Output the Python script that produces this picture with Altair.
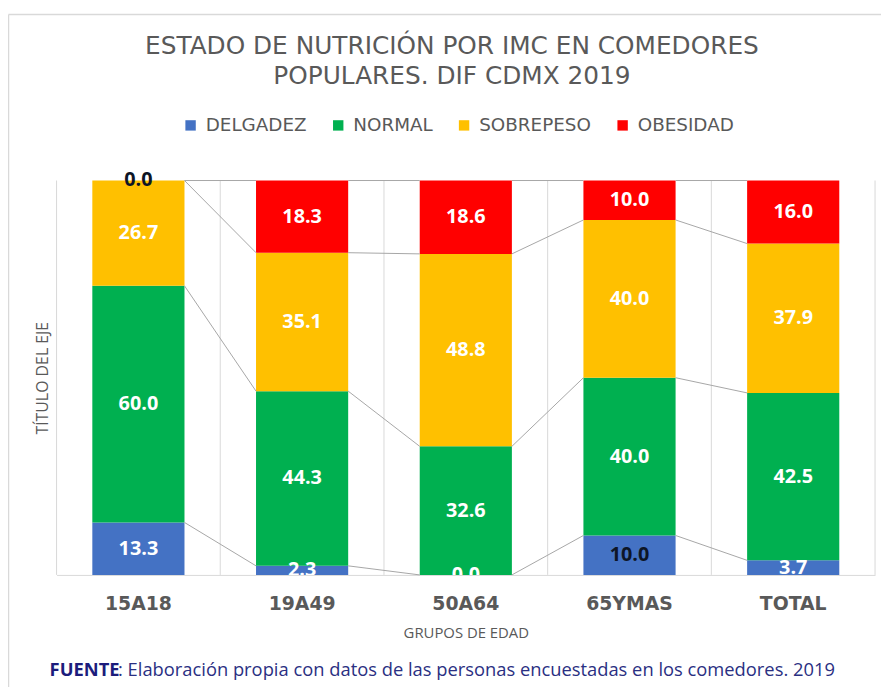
import altair as alt
import pandas as pd

grupos = ["15A18", "19A49", "50A64", "65YMAS", "TOTAL"]
estados = ["DELGADEZ", "NORMAL", "SOBREPESO", "OBESIDAD"]
delgadez = [13.3, 2.3, 0.0, 10.0, 3.7]
normal = [60.0, 44.3, 32.6, 40.0, 42.5]
sobrepeso = [26.7, 35.1, 48.8, 40.0, 37.9]
obesidad = [0.0, 18.3, 18.6, 10.0, 16.0]
colores = ["#4472C4", "#00B050", "#FFC000", "#FF0000"]

titulo = ["ESTADO DE NUTRICIÓN POR IMC EN COMEDORES", "POPULARES.  DIF CDMX 2019"]
titulo_y = "TÍTULO DEL EJE"
titulo_x = "GRUPOS DE EDAD"
fuente_neg = "FUENTE"
fuente_txt = ": Elaboración propia con datos de las personas encuestadas en los comedores. 2019"

series = [delgadez, normal, sobrepeso, obesidad]
rows = []
for gi, g in enumerate(grupos):
    vals = [s[gi] for s in series]
    total = sum(vals)
    acc = 0.0
    for si, e in enumerate(estados):
        v = vals[si]
        y0 = acc / total * 100
        acc += v
        y1 = acc / total * 100
        rows.append(dict(grupo=g, estado=e, valor=v, orden=si, y0=y0, y1=y1,
                         ymid=(y0 + y1) / 2, etiqueta=f"{v:.1f}"))
df = pd.DataFrame(rows)

lines = []
for gi in range(len(grupos) - 1):
    for e in estados:
        a = df[(df.grupo == grupos[gi]) & (df.estado == e)].y1.iloc[0]
        b = df[(df.grupo == grupos[gi + 1]) & (df.estado == e)].y1.iloc[0]
        lines.append(dict(g1=grupos[gi], g2=grupos[gi + 1], estado=e, ya=a, yb=b))
dl = pd.DataFrame(lines)
dg = pd.DataFrame({"grupo": grupos})

W, H = 826, 398
PI = 0.437
xscale = alt.Scale(domain=grupos, paddingInner=PI, paddingOuter=PI / 2)
gscale = alt.Scale(domain=grupos, padding=0)
yscale = alt.Scale(domain=[0, 100], nice=False)

xaxis = alt.Axis(title=titulo_x, labelFont="DejaVu Sans", labelFontSize=19,
                 labelFontWeight="bold", labelColor="#595959", labelPadding=20,
                 titleFont="Open Sans", titleFontSize=15, titleFontWeight="normal",
                 titleColor="#595959", titlePadding=12, ticks=False, grid=False,
                 domainColor="#d9d9d9", labelAngle=0)
yaxis = alt.Axis(title=titulo_y, labels=False, ticks=False, domain=False, grid=False,
                 titleFont="Open Sans", titleFontSize=16, titleFontWeight="normal",
                 titleColor="#595959", titlePadding=6)

# chart-area frame (top and left edges)
frame = pd.DataFrame({"k": [0]})
frame_top = alt.Chart(frame).mark_rule(color="#d9d9d9", strokeWidth=1.5).encode(
    x=alt.value(-48.5), x2=alt.value(W + 10), y=alt.value(-167.5))
frame_left = alt.Chart(frame).mark_rule(color="#d9d9d9", strokeWidth=1.5).encode(
    x=alt.value(-48.5), y=alt.value(-167.5), y2=alt.value(H + 120))

grid_l = alt.Chart(dg).mark_rule(color="#d9d9d9", strokeWidth=1).encode(
    x=alt.X("grupo:N", scale=gscale, sort=grupos, bandPosition=0, axis=None),
    y=alt.value(0), y2=alt.value(H),
)
grid_r = alt.Chart(dg).transform_filter(alt.datum.grupo == grupos[-1]).mark_rule(
    color="#d9d9d9", strokeWidth=1).encode(
    x=alt.X("grupo:N", scale=gscale, sort=grupos, bandPosition=1, axis=None),
    y=alt.value(0), y2=alt.value(H),
)

bars = alt.Chart(df).mark_bar().encode(
    x=alt.X("grupo:N", scale=xscale, sort=grupos, axis=xaxis),
    y=alt.Y("y0:Q", scale=yscale, axis=yaxis),
    y2="y1:Q",
    color=alt.Color("estado:N", scale=alt.Scale(domain=estados, range=colores), sort=estados,
                    legend=alt.Legend(title=None, orient="none", legendX=126, legendY=-65,
                                      direction="horizontal", columns=4, symbolType="square",
                                      symbolSize=110, symbolStrokeWidth=0, labelFont="DejaVu Sans",
                                      labelFontSize=18.5, labelColor="#595959", labelOffset=6,
                                      columnPadding=22)),
    order=alt.Order("orden:Q"),
)

rules = alt.Chart(dl).mark_rule(color="#a6a6a6", strokeWidth=1).encode(
    x=alt.X("g1:N", scale=xscale, sort=grupos, bandPosition=1, axis=None),
    x2=alt.X2("g2", bandPosition=0),
    y=alt.Y("ya:Q", scale=yscale, axis=yaxis),
    y2="yb:Q",
)

dark_test = "(datum.grupo == '65YMAS' && datum.estado == 'DELGADEZ') || (datum.grupo == '15A18' && datum.estado == 'OBESIDAD')"
top_test = "datum.grupo == '15A18' && datum.estado == 'OBESIDAD'"

lab_enc = dict(
    x=alt.X("grupo:N", scale=xscale, sort=grupos, axis=None),
    y=alt.Y("ymid:Q", scale=yscale, axis=yaxis),
    text="etiqueta:N",
    color=alt.condition(dark_test, alt.value("#0d1526"), alt.value("#ffffff")),
)
labels = alt.Chart(df).transform_filter("!(" + top_test + ")").mark_text(
    font="Open Sans", fontSize=20, fontWeight="bold", clip=True, baseline="middle"
).encode(**lab_enc)
labels_top = alt.Chart(df).transform_filter(top_test).mark_text(
    font="Open Sans", fontSize=20, fontWeight="bold", baseline="middle"
).encode(**lab_enc)

f1 = alt.Chart(pd.DataFrame({"t": [fuente_neg]})).mark_text(
    font="Open Sans", fontSize=18.5, fontWeight="bold", color="#1c1c7c", align="left", baseline="middle"
).encode(text="t:N", x=alt.value(-7), y=alt.value(494))
f2 = alt.Chart(pd.DataFrame({"t": [fuente_txt]})).mark_text(
    font="Open Sans", fontSize=18.5, color="#2a2f82", align="left", baseline="middle"
).encode(text="t:N", x=alt.value(62), y=alt.value(494))

chart = alt.layer(frame_top, frame_left, grid_l, grid_r, bars, rules, labels, labels_top,
                  f1, f2).resolve_scale(
    x="independent"
).properties(
    width=W, height=H,
    autosize=alt.AutoSizeParams(type="none"),
    padding={"left": 49, "top": 171, "right": 6, "bottom": 110},
    title=alt.TitleParams(text=titulo, font="DejaVu Sans", fontSize=25, fontWeight="normal",
                          color="#595959", anchor="middle", lineHeight=30, offset=-76, dx=-14),
).configure(background="white").configure_view(stroke=None)

chart.save("out.html", embed_options={"renderer": "svg", "actions": False})
